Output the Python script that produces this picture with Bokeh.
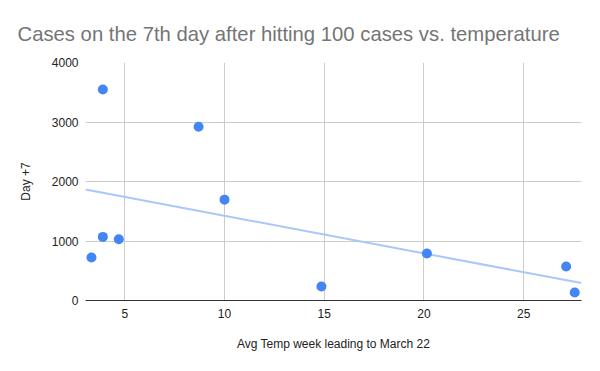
import numpy as np
from bokeh.plotting import figure
from bokeh.models import Range1d, ColumnDataSource, FixedTicker
from bokeh.embed import file_html
from bokeh.resources import INLINE

# Data
avg_temp = [3.33, 3.9, 3.9, 4.7, 8.7, 10.0, 14.86, 20.15, 27.13, 27.56]
day_plus_7 = [722, 3545, 1069, 1029, 2919, 1695, 235, 789, 570, 134]
x_ticks = [5, 10, 15, 20, 25]
y_ticks = [0, 1000, 2000, 3000, 4000]

title_text = "Cases on the 7th day after hitting 100 cases vs. temperature"
x_label = "Avg Temp week leading to March 22"
y_label = "Day +7"

x_min, x_max = 3.03, 27.9
FONT = "Liberation Sans"

p = figure(width=592, height=356, output_backend="svg", toolbar_location=None,
           x_range=Range1d(x_min, x_max), y_range=Range1d(0, 4000),
           min_border_left=85, min_border_right=11, min_border_top=62, min_border_bottom=56)

p.title.text = title_text
p.title.text_font = FONT
p.title.text_font_size = "20.3px"
p.title.text_font_style = "normal"
p.title.text_color = "#757575"
p.title.align = "left"
p.title.offset = -68
p.title.standoff = 35

p.outline_line_color = None
p.background_fill_color = "white"
p.border_fill_color = "white"

# trendline (linear least squares, as in the original)
slope, intercept = np.polyfit(avg_temp, day_plus_7, 1)
tx = [x_min, x_max]
ty = [slope * v + intercept for v in tx]
p.line(tx, ty, line_color="#a9c7fa", line_width=2)

src = ColumnDataSource(dict(x=avg_temp, y=day_plus_7))
p.scatter("x", "y", source=src, size=10, fill_color="#4285f4", line_color=None)

# axes
p.xaxis.ticker = FixedTicker(ticks=x_ticks)
p.yaxis.ticker = FixedTicker(ticks=y_ticks)
p.xaxis.axis_label = x_label
p.yaxis.axis_label = y_label
for ax in (p.xaxis[0], p.yaxis[0]):
    ax.major_tick_line_color = None
    ax.minor_tick_line_color = None
    ax.major_tick_out = 0
    ax.major_tick_in = 0
    ax.major_label_text_font = FONT
    ax.major_label_text_font_size = "12px"
    ax.major_label_text_color = "#222222"
    ax.axis_label_text_font = FONT
    ax.axis_label_text_font_size = "12px"
    ax.axis_label_text_font_style = "normal"
    ax.axis_label_text_color = "#222222"
p.xaxis.axis_line_color = "#333333"
p.xaxis.axis_line_width = 1
p.yaxis.axis_line_color = None
p.xaxis.major_label_standoff = 8
p.xaxis.axis_label_standoff = 16
p.yaxis.major_label_standoff = 7
p.yaxis.axis_label_standoff = 16

p.xgrid.grid_line_color = "#cccccc"
p.ygrid.grid_line_color = "#cccccc"
p.xgrid.ticker = FixedTicker(ticks=x_ticks)
p.ygrid.ticker = FixedTicker(ticks=[1000, 2000, 3000, 4000])

open("out.html", "w").write(file_html(p, INLINE))
